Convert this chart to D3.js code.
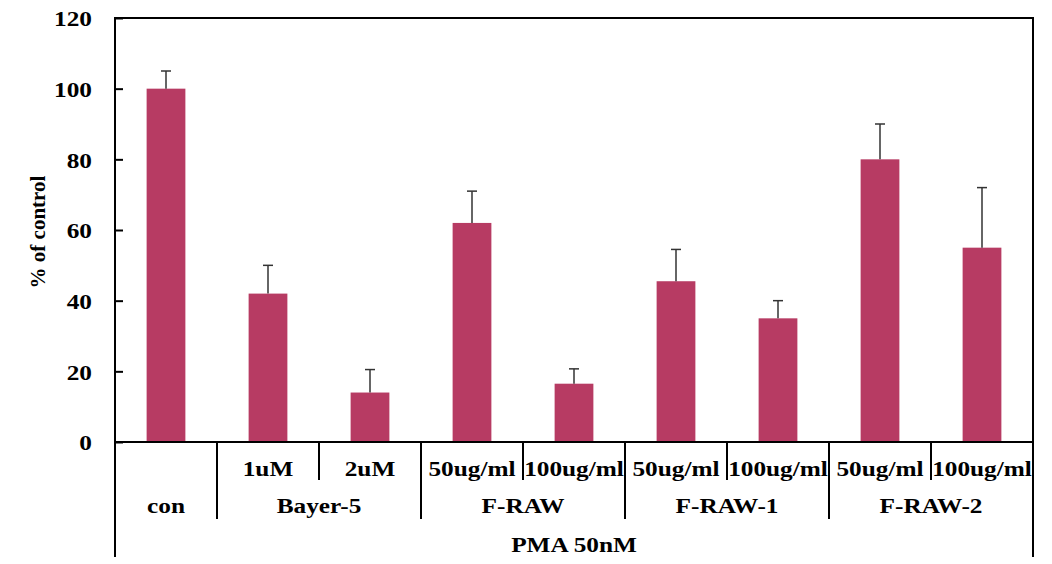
<!DOCTYPE html>
<html>
<head>
<meta charset="utf-8">
<script src="https://cdn.jsdelivr.net/npm/d3@7"></script>
<style>
  html, body { margin: 0; padding: 0; background: #fff; }
  svg { display: block; }
  text { font-family: "Liberation Serif", "Times New Roman", serif; font-weight: bold; fill: #000; }
</style>
</head>
<body>
<svg id="chart" width="1052" height="564"></svg>
<script>
// ---- data ----
const subLabels = ["", "1uM", "2uM", "50ug/ml", "100ug/ml", "50ug/ml", "100ug/ml", "50ug/ml", "100ug/ml"];
const groupNames = ["con", "Bayer-5", "F-RAW", "F-RAW-1", "F-RAW-2"];
const groupSizes = [1, 2, 2, 2, 2];
const values = [100, 42, 14, 62, 16.5, 45.5, 35, 80, 55];
const errors = [5, 8, 6.5, 9, 4.2, 9, 5, 10, 17];
const yTicks = [0, 20, 40, 60, 80, 100, 120];
const yTitle = "% of control";
const bottomTitle = "PMA 50nM";

// ---- layout ----
const svg = d3.select("#chart");
const pLeft = 115, pRight = 1033, pTop = 18, pBottom = 442;
const frameBottom = 557;
const fs = 22, sx = 1.15;
const barColor = "#b73b63";

const x = d3.scaleBand().domain(d3.range(values.length)).range([pLeft, pRight])
  .paddingInner(0.62).paddingOuter(0.31);
const y = d3.scaleLinear().domain([0, 120]).range([pBottom, pTop]);
const step = x.step();

// bars
svg.append("g").selectAll("rect").data(values).join("rect")
  .attr("x", (d, i) => x(i))
  .attr("y", d => y(d))
  .attr("width", x.bandwidth())
  .attr("height", d => y(0) - y(d))
  .attr("fill", barColor);

// error bars (upper only)
const eg = svg.append("g").attr("stroke", "#333").attr("stroke-width", 1.5);
values.forEach((v, i) => {
  const cx = x(i) + x.bandwidth() / 2;
  eg.append("line").attr("x1", cx).attr("x2", cx).attr("y1", y(v)).attr("y2", y(v + errors[i]));
  eg.append("line").attr("x1", cx - 5).attr("x2", cx + 5).attr("y1", y(v + errors[i])).attr("y2", y(v + errors[i]));
});

// y axis
const yAxis = d3.axisLeft(y).tickValues(yTicks).tickSize(-8).tickSizeOuter(0);
const ya = svg.append("g").attr("transform", `translate(${pLeft},0)`).call(yAxis);
ya.select(".domain").remove();
ya.selectAll(".tick line").attr("stroke", "#000").attr("stroke-width", 2);
ya.selectAll(".tick text")
  .attr("font-size", fs).attr("font-family", "Liberation Serif").attr("font-weight", "bold")
  .attr("fill", "#000").attr("dy", "0.35em")
  .attr("x", null).attr("text-anchor", "end")
  .attr("transform", `translate(-23,0) scale(${sx},1)`);

// frame lines
const frame = svg.append("g").attr("stroke", "#000").attr("stroke-width", 2).attr("fill", "none");
frame.append("line").attr("x1", pLeft).attr("x2", pLeft).attr("y1", pTop - 1).attr("y2", frameBottom);
frame.append("line").attr("x1", pRight).attr("x2", pRight).attr("y1", pTop - 1).attr("y2", frameBottom);
frame.append("line").attr("x1", pLeft).attr("x2", pRight).attr("y1", pTop).attr("y2", pTop);
frame.append("line").attr("x1", pLeft).attr("x2", pRight).attr("y1", y(0)).attr("y2", y(0));

// separators
let idx = 0;
const groupStarts = [];
groupSizes.forEach(s => { groupStarts.push(idx); idx += s; });
for (let i = 1; i < values.length; i++) {
  const bx = x(i) - (step - x.bandwidth()) / 2;
  const isGroup = groupStarts.includes(i);
  frame.append("line").attr("x1", bx).attr("x2", bx)
    .attr("y1", y(0)).attr("y2", isGroup ? 519 : 480);
}

function label(tx, ty, str) {
  svg.append("text")
    .attr("transform", `translate(${tx},${ty}) scale(${sx},1)`)
    .attr("text-anchor", "middle")
    .attr("font-size", fs)
    .text(str);
}

// row 1 sublabels
subLabels.forEach((s, i) => { if (s) label(x(i) + x.bandwidth() / 2, 476, s); });
// row 2 group labels
groupNames.forEach((g, gi) => {
  const a = groupStarts[gi], b = a + groupSizes[gi] - 1;
  const cx = (x(a) + x(b) + x.bandwidth()) / 2;
  label(cx, 513, g);
});
// bottom title
label((pLeft + pRight) / 2, 552, bottomTitle);

// y title
svg.append("text")
  .attr("transform", `translate(45,${(pTop + pBottom) / 2 + 2}) rotate(-90)`)
  .attr("text-anchor", "middle")
  .attr("font-size", 21)
  .text(yTitle);
</script>
</body>
</html>
